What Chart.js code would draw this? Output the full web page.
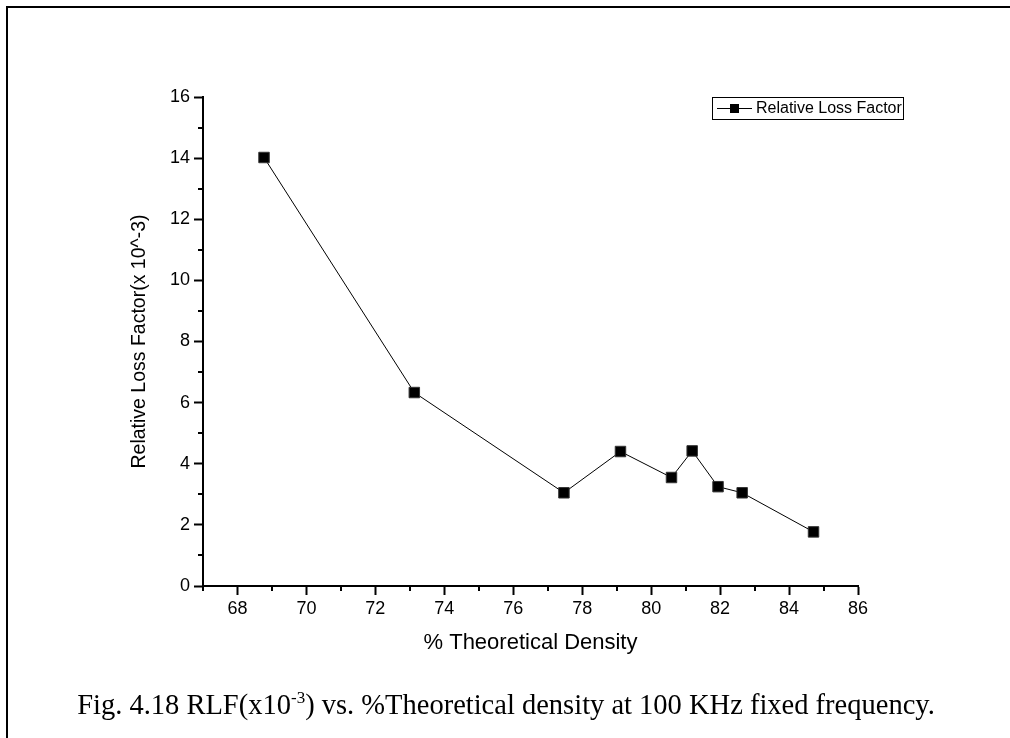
<!DOCTYPE html>
<html>
<head>
<meta charset="utf-8">
<title>Relative Loss Factor vs % Theoretical Density</title>
<script src="https://cdn.jsdelivr.net/npm/chart.js@4.4.1/dist/chart.umd.min.js"></script>
<style>
  html, body { margin: 0; padding: 0; background: #fff; }
  #wrap { position: relative; width: 1010px; height: 738px; overflow: hidden; }
  #frame { position: absolute; left: 6px; top: 6px; width: 1100px; height: 800px;
           border-left: 2px solid #000; border-top: 2px solid #000; }
  #chart { position: absolute; left: 0; top: 0; }
  #caption { position: absolute; left: 0; top: 688px; width: 1012px; text-align: center;
             font-family: "Liberation Serif", "Times New Roman", serif; font-size: 28.5px; color: #000; }
  #caption sup { font-size: 17px; }
</style>
</head>
<body>
<div id="wrap">
  <div id="frame"></div>
  <canvas id="chart" width="1010" height="738"></canvas>
  <div id="caption">Fig. 4.18 RLF(x10<sup>-3</sup>) vs. %Theoretical density at 100 KHz fixed frequency.</div>
</div>
<script>
var density = [68.77, 73.13, 77.47, 79.11, 80.59, 81.19, 81.94, 82.64, 84.71];
var lossFactor = [14.02, 6.33, 3.05, 4.40, 3.55, 4.42, 3.25, 3.05, 1.77];
var xLabels = [68, 70, 72, 74, 76, 78, 80, 82, 84, 86];
var yLabels = [0, 2, 4, 6, 8, 10, 12, 14, 16];
var seriesName = 'Relative Loss Factor';
var xTitle = '% Theoretical Density';
var yTitle = 'Relative Loss Factor(x 10^-3)';

var sans = '"Liberation Sans", Arial, sans-serif';

function isLabelled(list, v) {
    return list.indexOf(v) !== -1;
}

// short ticks at the odd values, the library only draws the long ones
var minorTicks = {
    id: 'minorTicks',
    afterDraw: function (chart) {
        var c = chart.ctx;
        var xs = chart.scales.x;
        var ys = chart.scales.y;
        c.save();
        c.strokeStyle = '#000';
        c.lineWidth = 2;
        xs.ticks.forEach(function (t) {
            if (isLabelled(xLabels, t.value)) return;
            var px = Math.round(xs.getPixelForValue(t.value));
            c.beginPath();
            c.moveTo(px, xs.top);
            c.lineTo(px, xs.top + 5);
            c.stroke();
        });
        ys.ticks.forEach(function (t) {
            if (isLabelled(yLabels, t.value)) return;
            var py = Math.round(ys.getPixelForValue(t.value));
            c.beginPath();
            c.moveTo(ys.right, py);
            c.lineTo(ys.right - 5, py);
            c.stroke();
        });
        c.restore();
    }
};

// boxed legend: line, square marker, name
var boxLegend = {
    id: 'boxLegend',
    afterDraw: function (chart) {
        var c = chart.ctx;
        var left = 712, top = 97, w = 191, h = 22;
        var mid = top + h / 2;
        c.save();
        c.strokeStyle = '#000';
        c.lineWidth = 1;
        c.strokeRect(left + 0.5, top + 0.5, w, h);
        c.beginPath();
        c.moveTo(left + 5, mid + 0.5);
        c.lineTo(left + 40, mid + 0.5);
        c.stroke();
        c.fillStyle = '#000';
        c.fillRect(left + 18, mid - 4, 9, 9);
        c.font = '16px ' + sans;
        c.textBaseline = 'middle';
        c.fillText(seriesName, left + 44, mid + 1);
        c.restore();
    }
};

document.addEventListener('DOMContentLoaded', function () {
    var ctx = document.getElementById('chart');
    var points = density.map(function (x, i) {
        return { x: x, y: lossFactor[i] };
    });

    new Chart(ctx, {
        type: 'scatter',
        data: {
            datasets: [{
                label: seriesName,
                data: points,
                showLine: true,
                borderColor: '#000',
                borderWidth: 1,
                backgroundColor: '#000',
                pointStyle: 'rect',
                pointRadius: 7.4,
                pointHoverRadius: 7.4,
                pointBorderColor: '#333',
                pointBorderWidth: 1
            }]
        },
        options: {
            responsive: false,
            animation: false,
            layout: { padding: { left: 0, top: 97, right: 152, bottom: 78 } },
            plugins: {
                legend: { display: false },
                tooltip: { enabled: false }
            },
            scales: {
                x: {
                    type: 'linear',
                    position: 'bottom',
                    min: 67,
                    max: 86,
                    afterFit: function (s) { s.height = 74; },
                    border: { color: '#000', width: 2 },
                    grid: {
                        drawOnChartArea: false,
                        tickLength: 9,
                        tickWidth: 2,
                        tickColor: function (c) {
                            return isLabelled(xLabels, c.tick.value) ? '#000' : 'rgba(0,0,0,0)';
                        }
                    },
                    ticks: {
                        stepSize: 1,
                        autoSkip: false,
                        maxRotation: 0,
                        padding: 3,
                        color: '#000',
                        font: { family: sans, size: 18 },
                        callback: function (v) { return isLabelled(xLabels, v) ? v : ''; }
                    },
                    title: {
                        display: true,
                        text: xTitle,
                        color: '#000',
                        font: { family: sans, size: 22 },
                        padding: { top: 0, bottom: 4 }
                    }
                },
                y: {
                    type: 'linear',
                    position: 'left',
                    min: 0,
                    max: 16,
                    afterFit: function (s) { s.width = 203; },
                    border: { color: '#000', width: 2 },
                    grid: {
                        drawOnChartArea: false,
                        tickLength: 9,
                        tickWidth: 2,
                        tickColor: function (c) {
                            return isLabelled(yLabels, c.tick.value) ? '#000' : 'rgba(0,0,0,0)';
                        }
                    },
                    ticks: {
                        stepSize: 1,
                        autoSkip: false,
                        padding: 4,
                        color: '#000',
                        font: { family: sans, size: 18 },
                        callback: function (v) { return isLabelled(yLabels, v) ? v : ''; }
                    },
                    title: {
                        display: true,
                        text: yTitle,
                        color: '#000',
                        font: { family: sans, size: 19.5 },
                        padding: { top: 128, bottom: 0 }
                    }
                }
            }
        },
        plugins: [minorTicks, boxLegend]
    });
});
</script>
</body>
</html>
